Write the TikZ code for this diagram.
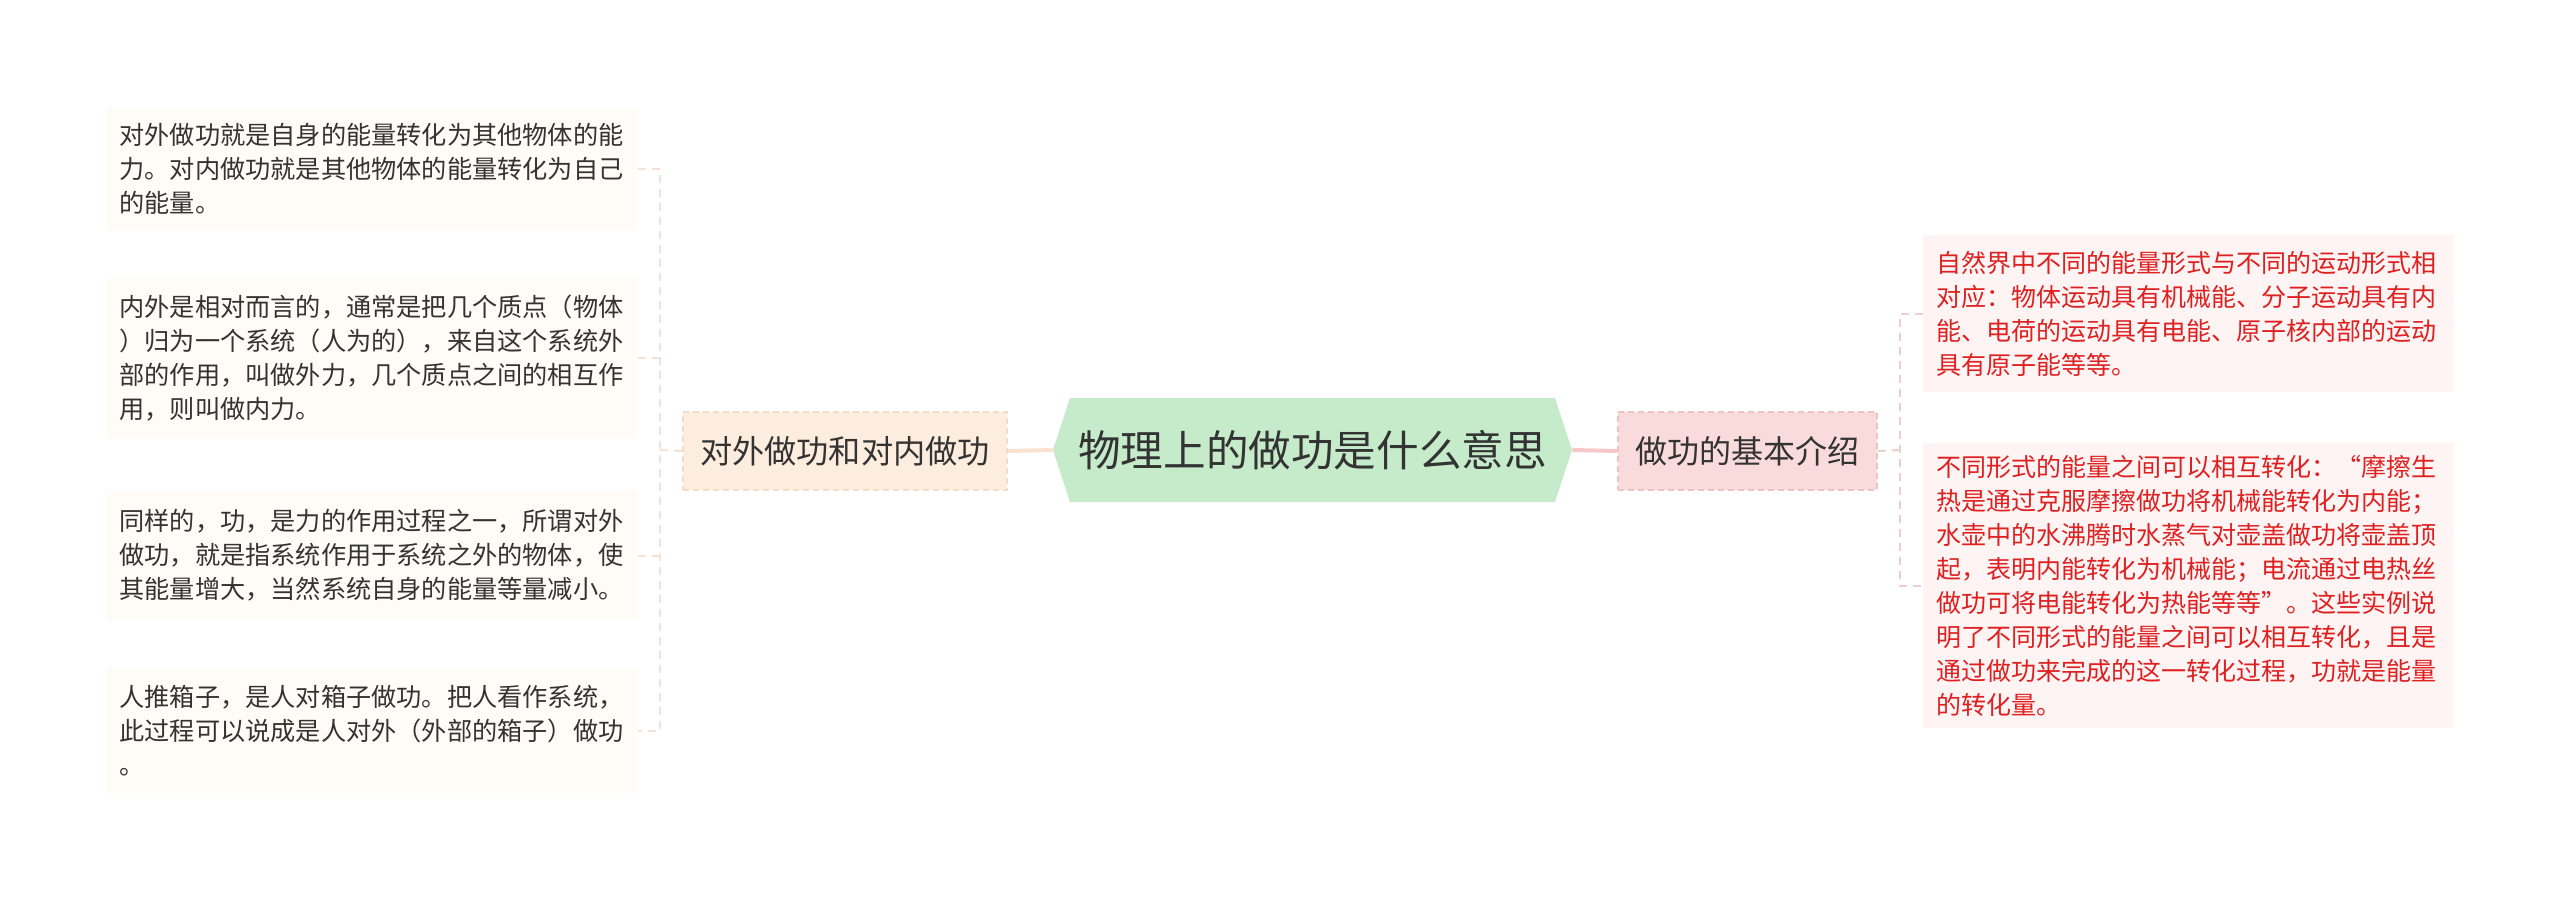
\documentclass[tikz,border=0pt]{standalone}
\usepackage{fontspec}
\setmainfont{Noto Sans CJK SC}
\definecolor{boxL}{RGB}{255,251,246}
\definecolor{boxR}{RGB}{254,244,244}
\definecolor{lmfill}{RGB}{253,237,222}
\definecolor{lmborder}{RGB}{244,220,198}
\definecolor{rmfill}{RGB}{250,219,219}
\definecolor{rmborder}{RGB}{238,194,194}
\definecolor{hexgreen}{RGB}{197,235,203}
\definecolor{conL}{RGB}{250,225,208}
\definecolor{conR}{RGB}{245,200,200}
\definecolor{dashL}{RGB}{244,226,212}
\definecolor{dashR}{RGB}{238,205,205}
\definecolor{txtdark}{RGB}{51,51,51}
\definecolor{txtred}{RGB}{222,32,32}
\tikzset{
  leafL/.style={anchor=west, fill=boxL, text=txtdark, align=left, text width=252.5pt,
    inner xsep=6.5pt, inner ysep=0pt, font=\fontsize{12.6pt}{17pt}\selectfont},
  leafR/.style={anchor=west, fill=boxR, text=txtred, align=left, text width=252.5pt,
    inner xsep=6.5pt, inner ysep=0pt, font=\fontsize{12.5pt}{17pt}\selectfont},
  midL/.style={fill=lmfill, draw=lmborder, dash pattern=on 3pt off 2pt, line width=0.75pt,
    text=txtdark, minimum width=162pt, minimum height=39pt, inner sep=0pt,
    font=\fontsize{16.1pt}{19pt}\selectfont},
  midR/.style={fill=rmfill, draw=rmborder, dash pattern=on 3pt off 2pt, line width=0.75pt,
    text=txtdark, minimum width=129.5pt, minimum height=39pt, inner sep=0pt,
    font=\fontsize{16pt}{19pt}\selectfont},
  conLline/.style={draw=conL, line width=2pt},
  conRline/.style={draw=conR, line width=2pt},
  treeL/.style={draw=dashL, line width=1pt, dash pattern=on 4pt off 3pt},
  treeR/.style={draw=dashR, line width=1pt, dash pattern=on 4pt off 3pt},
}
\begin{document}
\begin{tikzpicture}[x=0.5pt, y=-0.5pt]
\useasboundingbox[fill=white] (0,0) rectangle (2560,899);

% central hexagon
\path[fill=hexgreen] (1053,450) -- (1070,398) -- (1555,398) -- (1572,450) -- (1555,502) -- (1070,502) -- cycle;
\node[minimum width=259.5pt, minimum height=52pt, inner sep=0pt, text=txtdark,
  font=\fontsize{21.3pt}{25pt}\selectfont] (root) at (1312.5,450) {物理上的做功是什么意思};

% mid nodes
\node[midL] (lm) at (845,451) {对外做功和对内做功};
\node[midR] (rm) at (1747.5,451) {做功的基本介绍};

% left leaves
\node[leafL, minimum height=61pt] (b1) at (106,169) {对外做功就是自身的能量转化为其他物体的能\\力。对内做功就是其他物体的能量转化为自己\\的能量。};
\node[leafL, minimum height=80pt] (b2) at (106,358) {内外是相对而言的，通常是把几个质点（物体\\）归为一个系统（人为的），来自这个系统外\\部的作用，叫做外力，几个质点之间的相互作\\用，则叫做内力。};
\node[leafL, minimum height=64.5pt] (b3) at (106,555.5) {同样的，功，是力的作用过程之一，所谓对外\\做功，就是指系统作用于系统之外的物体，使\\其能量增大，当然系统自身的能量等量减小。};
\node[leafL, minimum height=62.5pt] (b4) at (106,730.5) {人推箱子，是人对箱子做功。把人看作系统，\\此过程可以说成是人对外（外部的箱子）做功\\。};

% right leaves
\node[leafR, minimum height=78.5pt] (r1) at (1923,313.5) {自然界中不同的能量形式与不同的运动形式相\\对应：物体运动具有机械能、分子运动具有内\\能、电荷的运动具有电能、原子核内部的运动\\具有原子能等等。};
\node[leafR, minimum height=142.5pt] (r2) at (1923,585.5) {不同形式的能量之间可以相互转化：“摩擦生\\热是通过克服摩擦做功将机械能转化为内能；\\水壶中的水沸腾时水蒸气对壶盖做功将壶盖顶\\起，表明内能转化为机械能；电流通过电热丝\\做功可将电能转化为热能等等”。这些实例说\\明了不同形式的能量之间可以相互转化，且是\\通过做功来完成的这一转化过程，功就是能量\\的转化量。};

% main connectors
\draw[conLline] (root.west) -- (lm.east);
\draw[conRline] (root.east) -- (rm.west);

% left tree
\coordinate (ls) at (660,450);
\draw[treeL] (lm.west) -- (ls);
\draw[treeL] (b1.east) -- (b1.east -| ls) -- (b4.east -| ls) -- (b4.east);
\draw[treeL] (b2.east) -- (b2.east -| ls);
\draw[treeL] (b3.east) -- (b3.east -| ls);

% right tree
\coordinate (rs) at (1900,450);
\draw[treeR] (rm.east) -- (rs);
\draw[treeR] (r1.west) -- (r1.west -| rs) -- (r2.west -| rs) -- (r2.west);
\end{tikzpicture}
\end{document}
